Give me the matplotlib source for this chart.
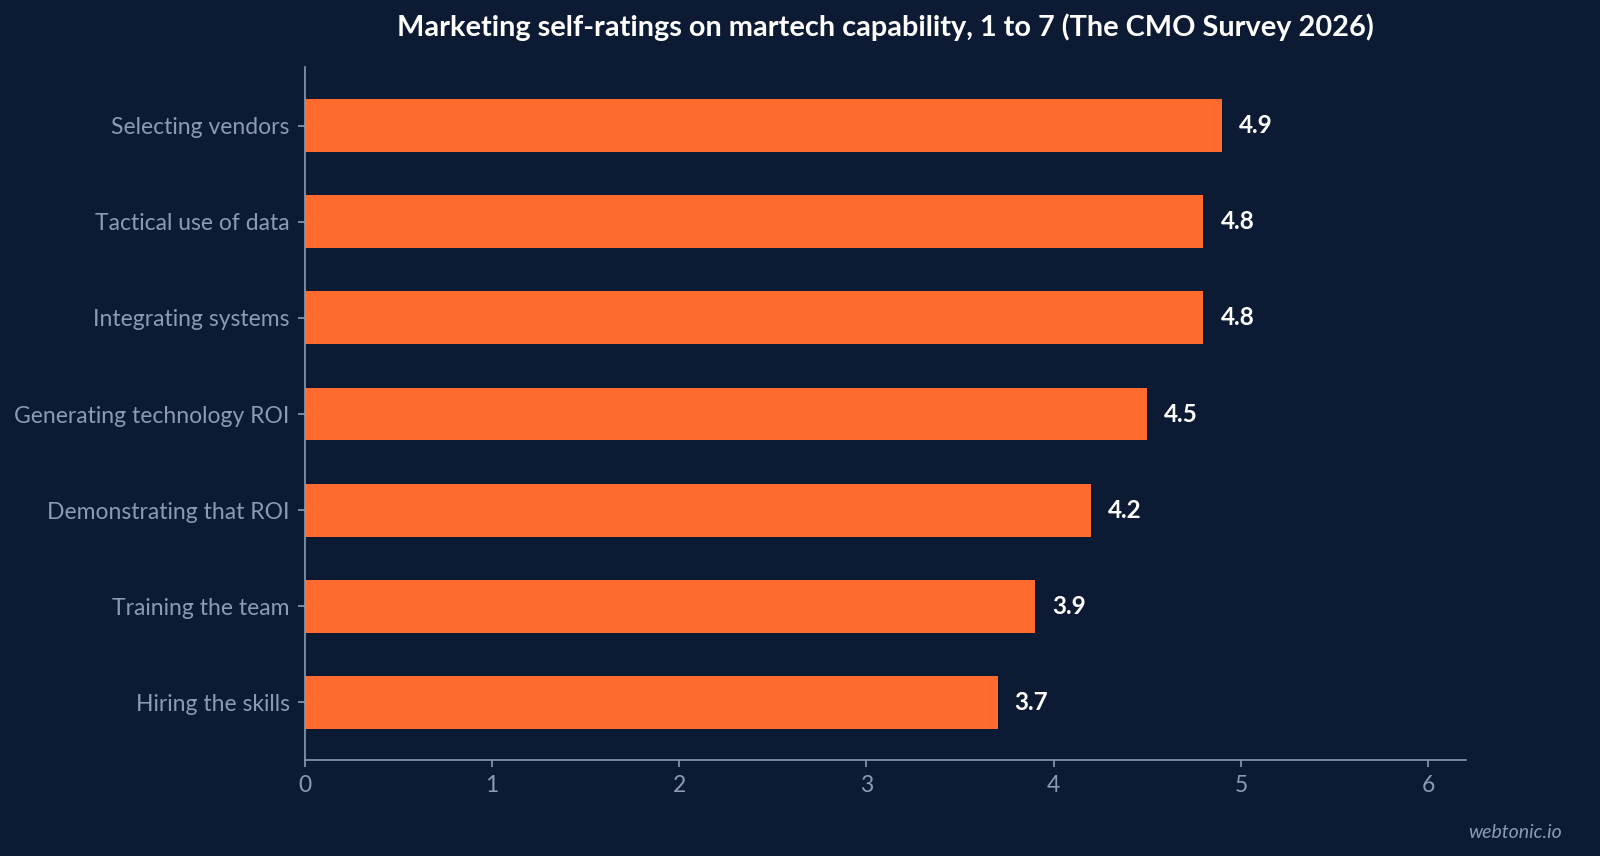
import matplotlib
matplotlib.use('Agg')
import matplotlib.pyplot as plt

# data (top to bottom as shown)
categories = ['Selecting vendors', 'Tactical use of data', 'Integrating systems',
              'Generating technology ROI', 'Demonstrating that ROI',
              'Training the team', 'Hiring the skills']
ratings = [4.9, 4.8, 4.8, 4.5, 4.2, 3.9, 3.7]
x_ticks = [0, 1, 2, 3, 4, 5, 6]

bg = '#0c1b33'
bar_col = '#ff6b2e'
muted = '#8a9bb5'

plt.rcParams['font.family'] = ['Lato', 'DejaVu Sans']

fig = plt.figure(figsize=(16, 8.56), dpi=100, facecolor=bg)
ax_pos = [0.1905, 0.112, 0.7255, 0.8097]
ax = fig.add_axes(ax_pos)
ax.set_facecolor(bg)

y = list(range(len(categories)))
ax.barh(y, ratings, height=0.55, color=bar_col, zorder=2)
for yi, v in zip(y, ratings):
    ax.annotate('%.1f' % v, xy=(v, yi), xytext=(17, 0), textcoords='offset pixels',
                va='center', ha='left', color='white', fontsize=17.5, fontweight='bold')

ax.set_yticks(y)
ax.set_yticklabels(categories)
ax.set_ylim(len(categories) - 1 + 0.6, -0.61)
ax.set_xlim(0, 6.2)
ax.set_xticks(x_ticks)

for side in ['top', 'right']:
    ax.spines[side].set_visible(False)
for side in ['left', 'bottom']:
    ax.spines[side].set_color(muted)
    ax.spines[side].set_linewidth(1.2)
ax.tick_params(colors=muted, labelsize=16.5, length=5, width=1.2)
ax.tick_params(axis='y', pad=6)
ax.tick_params(axis='x', pad=6)

# title centred over the plot area
fig.text(ax_pos[0] + ax_pos[2] / 2, 0.968,
         'Marketing self-ratings on martech capability, 1 to 7 (The CMO Survey 2026)',
         ha='center', va='center', color='white', fontsize=20.8, fontweight='bold')
fig.text(0.976, 0.027, 'webtonic.io', ha='right', va='center', color=muted,
         fontsize=14, fontstyle='italic')

fig.savefig('out.png', dpi=100, facecolor=bg)
